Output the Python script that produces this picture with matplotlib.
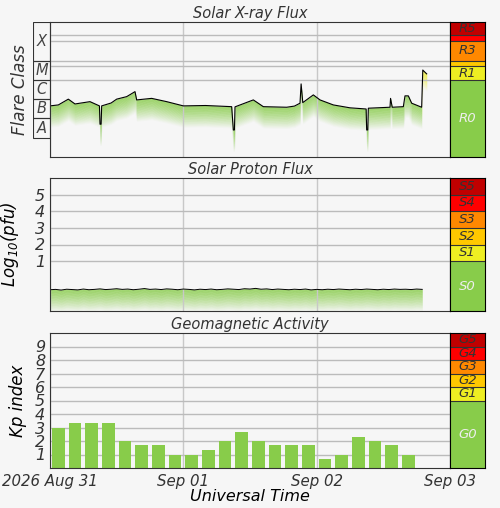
import matplotlib
matplotlib.use("Agg")
import matplotlib.pyplot as plt
from matplotlib.patches import Rectangle
from matplotlib.colors import to_rgb
import numpy as np

plt.rcParams.update({"font.family": "DejaVu Sans", "font.style": "italic",
                     "text.color": "#333333", "xtick.color": "#333333", "ytick.color": "#333333"})

# X-ray flux, hours since 2026-08-31 00:00 UT, log10(W/m2)
xr_hours = [0, 1.5, 3.3, 4.5, 7.2, 8.9, 9.0, 9.2, 9.3, 11, 12, 13.8, 14.5, 15.3, 15.6, 18.3, 21,
            24, 28, 32.7, 33.0, 33.2, 33.3, 36.6, 38.4, 42.6, 44, 45, 45.2, 45.5, 47.4, 48.6, 51,
            54, 56.9, 57.0, 57.2, 57.3, 61.2, 61.3, 61.6, 63.6, 63.9, 64.5, 65.1, 66.9, 67.1,
            67.3, 67.8]
xr_log = [-6.35, -6.3, -6.0, -6.25, -6.13, -6.35, -7.3, -7.3, -6.35, -6.2, -6.0, -5.87, -5.75,
          -5.61, -6.04, -5.96, -6.13, -6.35, -6.33, -6.39, -7.6, -7.6, -6.4, -6.04, -6.39, -6.42,
          -6.36, -6.21, -5.21, -6.18, -5.78, -6.04, -6.3, -6.45, -6.51, -7.6, -7.6, -6.47, -6.42,
          -5.96, -6.42, -6.39, -5.83, -5.83, -6.21, -6.42, -4.49, -4.55, -4.69]

# proton flux log10(pfu), every 1 h
pr_hours = list(range(0, 68))
pr_log = [-0.72, -0.70, -0.74, -0.69, -0.71, -0.73, -0.68, -0.72, -0.70, -0.67, -0.71, -0.69,
          -0.66, -0.70, -0.68, -0.72, -0.69, -0.65, -0.70, -0.68, -0.71, -0.67, -0.69, -0.72,
          -0.68, -0.70, -0.73, -0.69, -0.71, -0.68, -0.72, -0.70, -0.67, -0.69, -0.71, -0.66,
          -0.68, -0.64, -0.69, -0.67, -0.71, -0.68, -0.70, -0.72, -0.69, -0.71, -0.68, -0.73,
          -0.70, -0.72, -0.69, -0.71, -0.68, -0.70, -0.72, -0.69, -0.71, -0.68, -0.70, -0.72,
          -0.69, -0.71, -0.68, -0.70, -0.69, -0.71, -0.68, -0.70]

# Kp, 3-hour bins
kp_start = [0, 3, 6, 9, 12, 15, 18, 21, 24, 27, 30, 33, 36, 39, 42, 45, 48, 51, 54, 57, 60, 63]
kp_vals = [3.0, 3.33, 3.33, 3.33, 2.0, 1.67, 1.67, 1.0, 1.0, 1.33, 2.0, 2.67, 2.0, 1.67, 1.67,
           1.67, 0.67, 1.0, 2.33, 2.0, 1.67, 1.0]

R_edges = [-9, -5, -4.3, -4, -3, -2.7, -2]
R_labels = ["R0", "R1", "", "R3", "", "R5"]
S_edges = [-2, 1, 2, 3, 4, 5, 6]
S_labels = ["S0", "S1", "S2", "S3", "S4", "S5"]
G_edges = [0, 5, 6, 7, 8, 9, 10]
G_labels = ["G0", "G1", "G2", "G3", "G4", "G5"]
LEVEL_COLS = ["#88cc4a", "#eeee22", "#ffc800", "#ff8800", "#ff0000", "#c00000"]
BG = "#f6f6f6"

fig = plt.figure(figsize=(5, 5.08), dpi=100, facecolor=BG)
W, H = 500, 508

def add_ax(x0, y0, x1, y1):
    return fig.add_axes([x0 / W, 1 - y1 / H, (x1 - x0) / W, (y1 - y0) / H])

def style_main(ax):
    ax.set_facecolor(BG)
    ax.set_xlim(0, 72)
    ax.set_xticks([0, 24, 48, 72])
    ax.xaxis.grid(True, color="#c8c8c8", lw=1)
    ax.tick_params(length=0, labelsize=11.5)
    for s in ax.spines.values():
        s.set_color("#333333")

def levels(ax, edges, labels):
    ax.set_ylim(edges[0], edges[-1])
    ax.set_xlim(0, 1)
    for i, lab in enumerate(labels):
        ax.axhspan(edges[i], edges[i + 1], color=LEVEL_COLS[i], lw=0)
        if i > 0:
            ax.axhline(edges[i], color="#333333", lw=0.8)
        if lab:
            ax.text(0.5, (edges[i] + edges[i + 1]) / 2, lab, ha="center", va="center",
                    fontsize=9.5, color="#eeeeee" if i == 0 else "#333333")
    ax.set_xticks([]); ax.set_yticks([])

def fade_fill(ax, x, y, depth, col, where=None, n=30):
    y = np.asarray(y, float)
    c = np.array(to_rgb(col)); b = np.array(to_rgb(BG))
    for k in range(n):
        t = (k / n) ** 1.3
        ax.fill_between(x, y - depth * k / n, y - depth * (k + 1) / n, color=c * (1 - t) + b * t,
                        lw=0, where=where, interpolate=True, antialiased=False)

# --- X-ray ---
ax1 = add_ax(50, 22, 450, 157)
style_main(ax1)
ax1.set_ylim(-9, -2)
ax1.set_yticks([])
ax1.set_xticklabels([])
for lv in [-2.7, -3, -4, -4.3, -5]:
    ax1.axhline(lv, color="#bbbbbb", lw=1)
xr = np.array(xr_log)
fade_fill(ax1, xr_hours, xr, 1.1, LEVEL_COLS[0], where=xr <= -5)
fade_fill(ax1, xr_hours, xr, 0.9, LEVEL_COLS[1], where=xr >= -5)
ax1.plot(xr_hours, xr_log, color="black", lw=0.8)
ax1.set_title("Solar X-ray Flux", fontsize=10.5, pad=3)
cb1 = add_ax(450, 22, 485, 157)
levels(cb1, R_edges, R_labels)

axc = add_ax(33, 22, 50, 157)
axc.set_xlim(0, 1); axc.set_ylim(-9, -2); axc.axis("off")
for cls, lo, hi in [("X", -4, -2), ("M", -5, -4), ("C", -6, -5), ("B", -7, -6), ("A", -8, -7)]:
    axc.add_patch(Rectangle((0, lo), 1, hi - lo, fill=False, ec="#333333", lw=0.8))
    axc.text(0.5, (lo + hi) / 2, cls, ha="center", va="center", fontsize=10.5, color="#444444")
fig.text(20 / W, 1 - 90 / H, "Flare Class", rotation=90, ha="center", va="center", fontsize=12)

# --- protons ---
ax2 = add_ax(50, 178, 450, 311)
style_main(ax2)
ax2.set_ylim(-2, 6)
ax2.set_yticks([1, 2, 3, 4, 5])
ax2.set_xticklabels([])
ax2.yaxis.grid(True, color="#bbbbbb", lw=1)
fade_fill(ax2, pr_hours, pr_log, 1.3, LEVEL_COLS[0])
ax2.plot(pr_hours, pr_log, color="black", lw=0.7)
ax2.set_title("Solar Proton Flux", fontsize=10.5, pad=3)
ax2.set_ylabel(r"Log$_{10}$(pfu)", fontsize=12, labelpad=10)
cb2 = add_ax(450, 178, 485, 311)
levels(cb2, S_edges, S_labels)

# --- Kp ---
ax3 = add_ax(50, 333, 450, 468)
style_main(ax3)
ax3.set_ylim(0, 10)
ax3.set_yticks(range(1, 10))
ax3.yaxis.grid(True, color="#bbbbbb", lw=1)
ax3.set_axisbelow(True)
ax3.bar(np.array(kp_start) + 1.5, kp_vals, width=2.3, color="#88cc4a")
ax3.set_xticklabels(["2026 Aug 31", "Sep 01", "Sep 02", "Sep 03"])
ax3.tick_params(axis="x", pad=4, labelsize=10.8)
ax3.set_title("Geomagnetic Activity", fontsize=10.5, pad=3)
ax3.set_ylabel("Kp index", fontsize=12, labelpad=6)
ax3.set_xlabel("Universal Time", fontsize=11.5, labelpad=0)
cb3 = add_ax(450, 333, 485, 468)
levels(cb3, G_edges, G_labels)

fig.savefig("out.png", facecolor=BG)
